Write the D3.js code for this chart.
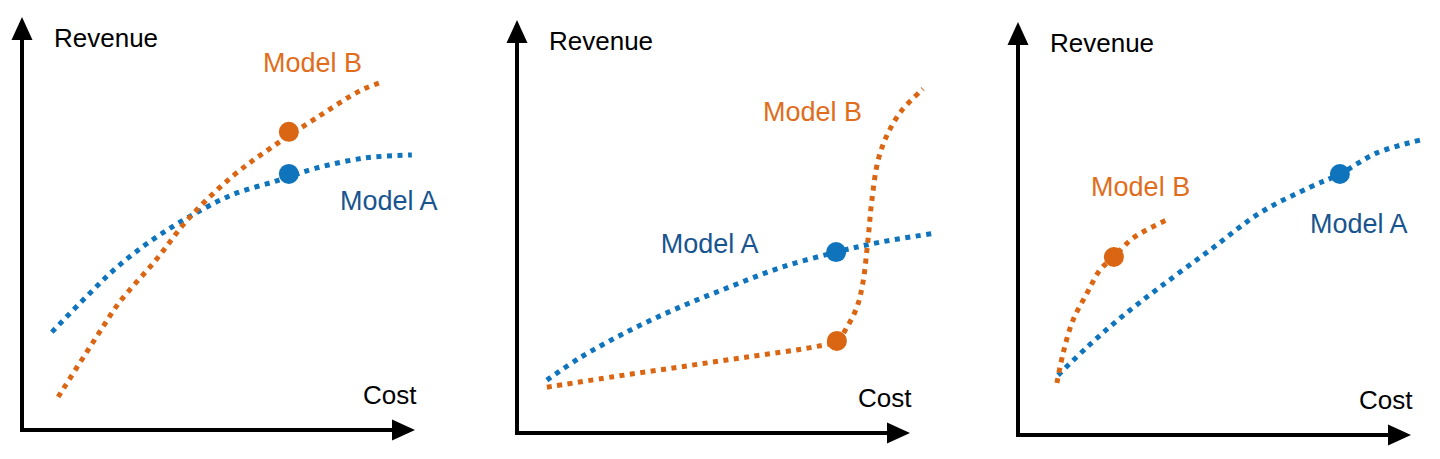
<!DOCTYPE html>
<html>
<head>
<meta charset="utf-8">
<style>
  body { margin: 0; background: #fff; }
  svg { display: block; font-family: "Liberation Sans", Arial, Helvetica, sans-serif; }
</style>
</head>
<body>
<svg width="1440" height="459"></svg>
<script src="https://d3js.org/d3.v7.min.js"></script>
<script>

// three sketches, values in arbitrary units (0-100 on both axes)
var panelNames = ["similar", "jump", "shifted"];

// panel 1
var p1ModelA = [[7.6,23.7],[16.3,32.2],[23.9,39.2],[33.1,46.0],[42.5,51.6],[53.4,56.9],[65.4,60.5],[74.8,63.4],[87.5,65.9],[99.2,66.6]];
var p1ModelB = [[9.2,8.0],[19.6,23.5],[24.7,30.8],[34.1,41.2],[42.5,51.3],[53.4,61.3],[63.6,68.5],[75.6,76.0],[80.0,78.7],[84.0,81.1],[87.5,82.8],[90.8,84.0]];
var p1PointA = [67.9, 62.0];
var p1PointB = [67.9, 72.2];

// panel 2
var p2ModelA = [[7.6,12.8],[16.0,18.2],[28.8,24.9],[41.5,30.5],[54.2,35.4],[66.9,40.0],[81.2,43.8],[92.4,46.2],[106.4,48.4]];
var p2ModelB = [[7.6,11.1],[24.4,13.6],[41.5,16.0],[58.5,18.4],[75.3,20.8],[81.4,22.3],[84.0,25.7],[86.5,30.5],[88.0,36.3],[89.3,46.7],[90.3,56.4],[91.9,66.1],[94.4,72.6],[98.0,78.2],[103.3,83.3]];
var p2PointA = [81.2, 43.8];
var p2PointB = [81.4, 22.3];

// panel 3
var p3ModelA = [[10.2,14.5],[17.6,21.3],[26.0,28.3],[36.1,35.8],[48.9,44.8],[61.6,53.8],[74.3,60.0],[81.9,63.2],[91.3,68.3],[102.3,71.4]];
var p3ModelB = [[9.9,12.6],[11.5,19.9],[14.0,27.8],[17.6,34.4],[20.9,40.0],[24.4,43.1],[29.3,47.7],[37.9,52.1]];
var p3PointA = [81.9, 63.2];
var p3PointB = [24.4, 43.1];

var seriesNames = ["Model A", "Model B"];
var axisTitles = {x: "Cost", y: "Revenue"};

// layout (not data)
var origins = [[22, 430], [517, 433], [1018, 435]];
var labelPos = [
  {a: [80.9, 53.2], b: [61.3, 86.7]},
  {a: [36.6, 43.6], b: [62.6, 75.5]},
  {a: [74.3, 48.9], b: [18.6, 57.9]}
];

var lineColor = {"Model A": "#0f74bc", "Model B": "#da6614"};
var textColor = {"Model A": "#18558f", "Model B": "#e06d1c"};

var panels = [
  {a: p1ModelA, b: p1ModelB, pa: p1PointA, pb: p1PointB},
  {a: p2ModelA, b: p2ModelB, pa: p2PointA, pb: p2PointB},
  {a: p3ModelA, b: p3ModelB, pa: p3PointA, pb: p3PointB}
];

var svg = d3.select("svg"),
  width = 393,
  height = 413;

panels.forEach(function(p, i) {
  var g = svg.append("g")
      .attr("class", "panel " + panelNames[i])
      .attr("transform", "translate(" + origins[i][0] + "," + origins[i][1] + ")");

  var x = d3.scaleLinear().domain([0, 100]).range([0, width]),
    y = d3.scaleLinear().domain([0, 100]).range([0, -height]);

  var line = d3.line()
    .curve(d3.curveCatmullRom.alpha(0.5))
    .x(function(d) { return x(d[0]); })
    .y(function(d) { return y(d[1]); });

  // axes: thick black lines with triangle heads
  g.append("line")
      .attr("x1", -2).attr("y1", 0)
      .attr("x2", x(100) - 20).attr("y2", 0)
      .attr("stroke", "#000").attr("stroke-width", 4);
  g.append("path")
      .attr("d", "M" + x(100) + ",0L" + (x(100) - 23) + ",-10.5L" + (x(100) - 23) + ",10.5Z")
      .attr("fill", "#000");
  g.append("line")
      .attr("x1", 0).attr("y1", 2)
      .attr("x2", 0).attr("y2", y(100) + 20)
      .attr("stroke", "#000").attr("stroke-width", 4);
  g.append("path")
      .attr("d", "M0," + y(100) + "L-10.5," + (y(100) + 23) + "L10.5," + (y(100) + 23) + "Z")
      .attr("fill", "#000");

  g.append("text")
      .attr("x", 32).attr("y", y(100) + 30)
      .style("font-size", "26px")
      .attr("fill", "#000")
      .text(axisTitles.y);
  g.append("text")
      .attr("x", 341).attr("y", -26)
      .style("font-size", "26px")
      .attr("fill", "#000")
      .text(axisTitles.x);

  var series = [
    {name: seriesNames[0], values: p.a, point: p.pa, label: labelPos[i].a},
    {name: seriesNames[1], values: p.b, point: p.pb, label: labelPos[i].b}
  ];

  g.selectAll(".model")
      .data(series)
      .enter().append("path")
      .attr("class", "model")
      .attr("d", function(d) { return line(d.values); })
      .attr("fill", "none")
      .attr("stroke", function(d) { return lineColor[d.name]; })
      .attr("stroke-width", 5)
      .attr("stroke-dasharray", "5 5.5");

  g.selectAll(".pt")
      .data(series)
      .enter().append("circle")
      .attr("class", "pt")
      .attr("cx", function(d) { return x(d.point[0]); })
      .attr("cy", function(d) { return y(d.point[1]); })
      .attr("r", 10)
      .attr("fill", function(d) { return lineColor[d.name]; });

  g.selectAll(".lbl")
      .data(series)
      .enter().append("text")
      .attr("class", "lbl")
      .attr("x", function(d) { return x(d.label[0]); })
      .attr("y", function(d) { return y(d.label[1]); })
      .style("font-size", "27px")
      .attr("fill", function(d) { return textColor[d.name]; })
      .text(function(d) { return d.name; });
});

</script>
</body>
</html>
